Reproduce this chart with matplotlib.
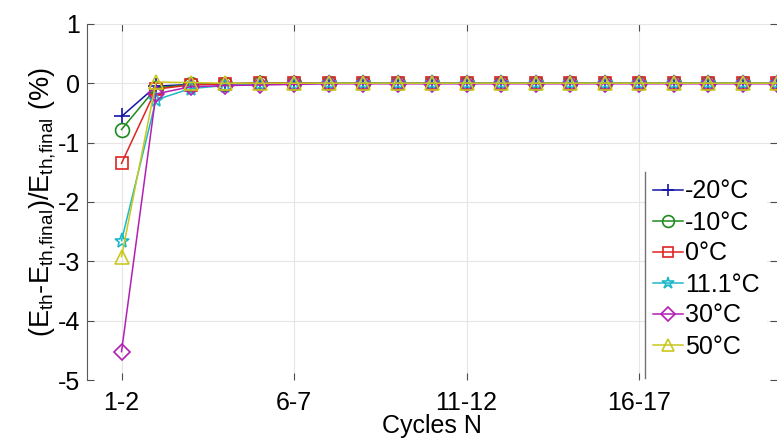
import matplotlib
matplotlib.use("Agg")
import matplotlib.pyplot as plt
from matplotlib.lines import Line2D

plt.rcParams['font.family'] = ['Liberation Sans', 'DejaVu Sans']
plt.rcParams['mathtext.default'] = 'regular'
plt.rcParams['axes.unicode_minus'] = False

cycles = list(range(1, 21))
tick_pos = [1, 6, 11, 16]
tick_labels = ["1-2", "6-7", "11-12", "16-17"]

t_m20 = [-0.56, -0.05, -0.02, -0.01] + [0.0] * 16
t_m10 = [-0.78, -0.08, -0.02, -0.01] + [0.0] * 16
t_0 = [-1.35, -0.10, -0.03, -0.01] + [0.0] * 16
t_11 = [-2.65, -0.28, -0.09, -0.04, -0.02, -0.01] + [0.0] * 14
t_30 = [-4.52, -0.18, -0.06, -0.04, -0.03, -0.02] + [-0.01] * 14
t_50 = [-2.92, 0.02, 0.01] + [0.0] * 17

series = [
    (t_m20, "-20°C", "+", "#1414a8", 11),
    (t_m10, "-10°C", "o", "#1f8a1f", 10),
    (t_0, "0°C", "s", "#e02424", 8),
    (t_11, "11.1°C", "*", "#1fb8c8", 11),
    (t_30, "30°C", "D", "#b41eb4", 8),
    (t_50, "50°C", "^", "#c8c81e", 10),
]

fig = plt.figure(figsize=(7.77, 4.41), dpi=100)
ax = fig.add_axes([0.112, 0.138, 0.888, 0.808])

for vals, lab, mk, col, ms in series:
    ax.plot(cycles, vals, color=col, marker=mk, markersize=ms, linewidth=1.1,
            markerfacecolor='none', markeredgecolor=col, markeredgewidth=1.2,
            label=lab)

ax.set_xlim(0, 20)
ax.set_ylim(-5, 1)
ax.set_xticks(tick_pos)
ax.set_xticklabels(tick_labels)
ax.set_yticks([-5, -4, -3, -2, -1, 0, 1])
ax.tick_params(axis='both', direction='in', labelsize=18, length=5, width=0.8,
               top=True, right=True, color='0.3')
ax.tick_params(axis='x', pad=8)
ax.tick_params(axis='y', pad=5)
ax.grid(True, color='#e6e6e6', linewidth=0.8)
for s in ['top', 'right', 'bottom']:
    ax.spines[s].set_visible(False)
ax.spines['left'].set_color('0.35')

ax.set_xlabel("Cycles N", fontsize=18, labelpad=-1)
ax.set_ylabel(r"(E$_{th}$-E$_{th{,}final}$)/E$_{th{,}final}$ (%)", fontsize=19.5,
              labelpad=0)

leg = ax.legend(loc='upper left', bbox_to_anchor=(645 / 777, 1 - 172 / 441),
                bbox_transform=fig.transFigure, fontsize=18, frameon=True,
                fancybox=False, handlelength=1.2, handletextpad=0.1,
                labelspacing=0.28, borderpad=0.3, borderaxespad=0,
                markerscale=0.85)
leg.get_frame().set_edgecolor('none')
leg.get_frame().set_facecolor('white')
leg.get_frame().set_alpha(1)
fig.add_artist(Line2D([645 / 777, 645 / 777], [1 - 172 / 441, 1 - 378 / 441],
                      transform=fig.transFigure, color='0.45', linewidth=1))

fig.savefig("out.png", dpi=100)
